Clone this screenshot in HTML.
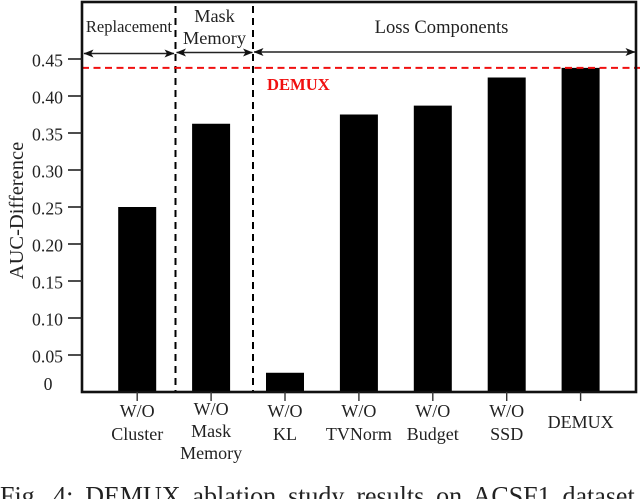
<!DOCTYPE html>
<html>
<head>
<meta charset="utf-8">
<style>
html,body{margin:0;padding:0;background:#fff;width:640px;height:499px;overflow:hidden}
svg{display:block;position:absolute;left:0;top:0}
text{font-family:"Liberation Serif",serif;fill:#222}
</style>
</head>
<body>
<svg id="chart" width="640" height="499" viewBox="0 0 640 499" xmlns="http://www.w3.org/2000/svg">
<defs>
<marker id="ah" viewBox="0 0 10 8" refX="9.5" refY="4" markerWidth="10" markerHeight="8" orient="auto-start-reverse" markerUnits="userSpaceOnUse">
<path d="M0 0L10 4L0 8L2.5 4Z" fill="#111"/>
</marker>
</defs>
<text x="0" y="504.5" font-size="26" word-spacing="5.4">Fig. 4: DEMUX ablation study results on ACSF1 dataset</text>
</svg>
<script>
const categories = [["W/O","Cluster"],["W/O","Mask","Memory"],["W/O","KL"],["W/O","TVNorm"],["W/O","Budget"],["W/O","SSD"],["DEMUX"]];
const barValues = [0.25, 0.3625, 0.026, 0.375, 0.387, 0.425, 0.438];
const yTickValues = [0, 0.05, 0.10, 0.15, 0.20, 0.25, 0.30, 0.35, 0.40, 0.45];
const yTickLabels = ["0","0.05","0.10","0.15","0.20","0.25","0.30","0.35","0.40","0.45"];
const referenceValue = 0.438;

const NS = "http://www.w3.org/2000/svg";
const svg = document.getElementById("chart");
const plot = {left:82, right:636, top:2, bottom:392};
const yScale = v => plot.bottom - v * 740;
const xScale = i => 137.2 + i * 73.9;
const barWidth = 38;

function mk(tag, attrs, parent){
  const el = document.createElementNS(NS, tag);
  for (const k in attrs) el.setAttribute(k, attrs[k]);
  (parent || svg).appendChild(el);
  return el;
}

// bars
categories.forEach((c, i) => {
  const y = yScale(barValues[i]);
  const bar = mk("rect", {x:xScale(i)-barWidth/2, y:y, width:barWidth, height:plot.bottom-y, fill:"#000"});
  
  
});

// section dividers
[175.5, 253].forEach(x => {
  const d = mk("line", {x1:x, x2:x, y1:6, y2:plot.bottom, stroke:"#000", "stroke-width":2, "stroke-dasharray":"7 5"});
  
  
});

// reference line
const refY = yScale(referenceValue);
const refLine = mk("line", {x1:plot.left, x2:640, y1:refY, y2:refY, stroke:"#f01010", "stroke-width":2, "stroke-dasharray":"7 4.5"});



const refLabel = mk("text", {x:267, y:90, "font-size":16.6, "font-weight":"bold", style:"fill:#f01010"});
refLabel.textContent = "DEMUX";



// frame
const frame = mk("rect", {x:plot.left, y:plot.top, width:plot.right-plot.left, height:plot.bottom-plot.top, fill:"none", stroke:"#111", "stroke-width":2.6});



// y ticks
yTickValues.forEach((v, i) => {
  const y = yScale(v);
  if (v > 0) {
    const t = mk("line", {x1:68, x2:plot.left, y1:y, y2:y, stroke:"#222", "stroke-width":1.6});
    
    
  }
  const lab = mk("text", {x:v > 0 ? 63 : 52.5, y:(v > 0 ? y + 7.5 : 390), "font-size":17.7, "text-anchor":"end"});
  lab.textContent = yTickLabels[i];
  
  
});

// y axis title
const yTitle = mk("text", {x:0, y:0, "font-size":20.5, "text-anchor":"middle", transform:"translate(23 210.5) rotate(-90)"});
yTitle.textContent = "AUC-Difference";



// x ticks and labels
categories.forEach((lines, i) => {
  const x = xScale(i);
  const t = mk("line", {x1:x, x2:x, y1:plot.bottom, y2:plot.bottom+9, stroke:"#333", "stroke-width":1.4});
  
  
  const single = lines.length === 1;
  const three = lines.length === 3;
  lines.forEach((line, j) => {
    const base = single ? 428 : three ? 415 + j * 22 : 417 + j * 23;
    const lab = mk("text", {x:x, y:base, "font-size":18, "text-anchor":"middle"});
    lab.textContent = line;
    
    
  });
});

// section arrows
[[84, 174, 53.5], [176.5, 252.5, 52.5], [254, 635, 52]].forEach(a => {
  const l = mk("line", {x1:a[0], x2:a[1], y1:a[2], y2:a[2], stroke:"#222", "stroke-width":1.5, "marker-start":"url(#ah)", "marker-end":"url(#ah)"});
  
  
});

// section headings
[["Replacement",129,32,16.5],["Mask",214.5,22,18.3],["Memory",214.5,44,18.3],["Loss Components",441.5,33,18.6]].forEach(h => {
  const s = mk("text", {x:h[1], y:h[2], "font-size":h[3], "text-anchor":"middle"});
  s.textContent = h[0];
  
  
});
</script>
</body>
</html>
